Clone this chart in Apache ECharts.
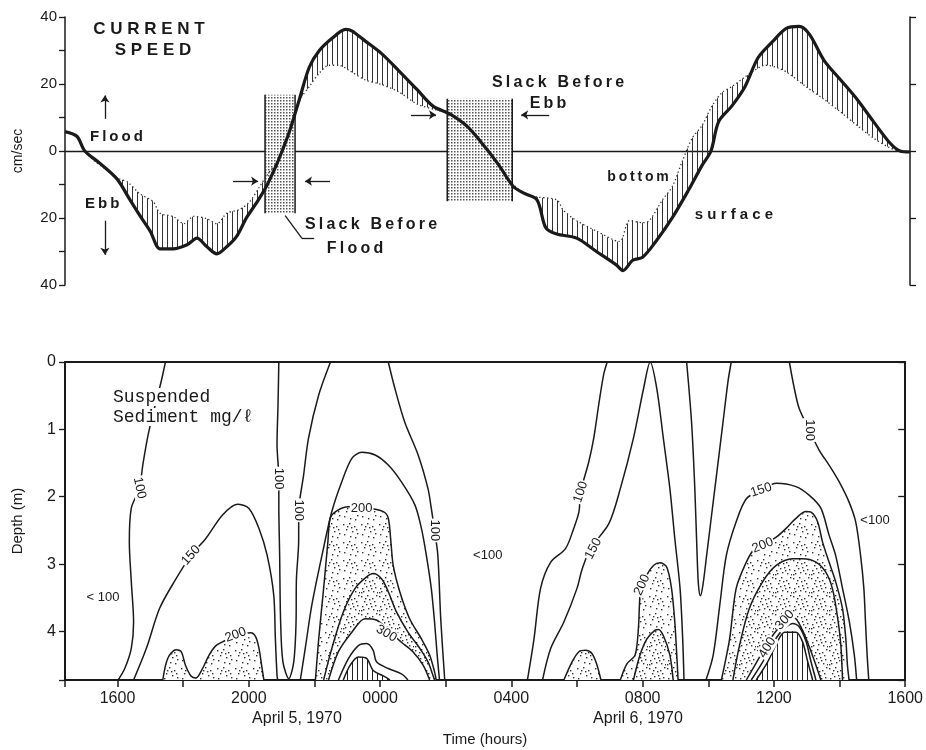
<!DOCTYPE html>
<html><head><meta charset="utf-8">
<script src="https://cdn.jsdelivr.net/npm/echarts@6/dist/echarts.min.js"></script>
<style>html,body{margin:0;padding:0;background:#fff}#c{width:926px;height:750px}</style>
</head><body><div id="c"></div>
<script>
// ---------- TOP PANEL DATA: current speed (time in hours from 00:00 Apr 5; cm/sec, +flood / -ebb) ----------
const surfaceSpeed = [[14.4,5.8],[14.76,4.4],[15.0,0],[15.46,-3.7],[15.98,-8.4],[16.37,-14.6],[16.67,-19.3],[16.98,-23.9],[17.28,-29.2],[17.67,-29.2],[18.1,-28],[18.4,-26],[18.7,-28.6],[19.0,-30.7],[19.3,-28.6],[19.6,-25.5],[19.9,-19.9],[20.2,-15.5],[20.5,-10.6],[20.8,-4.3],[20.99,0.3],[21.2,5.8],[21.5,15.4],[21.8,25],[22.1,29.9],[22.5,33.7],[22.9,36.3],[23.1,35.8],[23.5,32.8],[24.0,29],[24.5,24.1],[25.07,18.3],[25.55,13.4],[26.07,11],[26.6,7.2],[27.15,0.9],[27.55,-4.3],[27.98,-10.6],[28.3,-12.6],[28.7,-14.6],[28.97,-23],[29.3,-24.8],[29.9,-26],[30.5,-30],[31.1,-34],[31.3,-35.7],[31.6,-32.6],[31.9,-31.7],[32.3,-27],[32.8,-19.9],[33.3,-11.5],[33.7,-4.3],[33.97,0],[34.2,8.7],[34.6,13.4],[35.0,19.2],[35.4,27.9],[35.85,32.8],[36.25,36.6],[36.64,37.2],[36.95,34.9],[37.4,27],[37.9,21.2],[38.4,15.4],[38.9,8.7],[39.4,2.3],[39.7,0],[40.0,-0.3]];
const bottomSpeed = [[14.4,5.8],[14.76,4.4],[15.0,0],[15.25,-2.6],[15.6,-5.2],[15.98,-8.0],[16.3,-9.3],[16.67,-12.8],[17.07,-15.1],[17.28,-18.6],[17.67,-19.5],[18.0,-21.7],[18.3,-19.5],[18.7,-20.2],[19.0,-21.7],[19.3,-18.6],[19.7,-17.4],[20.0,-15.1],[20.3,-10.6],[20.5,-7.5],[20.8,-3.5],[21.0,0.5],[21.2,5.8],[21.5,15.0],[21.8,19.2],[22.1,23.2],[22.4,25.6],[22.7,25.6],[23.0,24.1],[23.5,21.2],[24.0,19.8],[24.5,17.7],[25.07,14],[25.55,12.5],[26.07,11],[26.6,7.2],[27.15,0.9],[27.55,-4.3],[27.98,-10.0],[28.3,-12.4],[28.7,-13.7],[29.3,-14.6],[29.5,-17.7],[29.9,-20.8],[30.5,-23.9],[31.2,-27],[31.5,-20.8],[31.9,-21.4],[32.1,-20.8],[32.5,-14.6],[32.8,-10.6],[33.1,-3.1],[33.4,3.8],[33.7,7.6],[34.0,13.4],[34.3,17.4],[34.6,19.2],[35.0,22.1],[35.3,24.1],[35.6,25.6],[35.95,25],[36.3,23.3],[36.85,19.2],[37.4,15.4],[37.9,11.6],[38.4,7.6],[38.9,3.8],[39.4,0.9],[39.7,0],[40.0,-0.3]];
// slack periods: [startHour, endHour, topSpeed, bottomSpeed]
const slackPeriods = [[20.46,21.37,16.8,-18.6],[25.98,27.95,15.6,-15.0]];

// ---------- BOTTOM PANEL DATA: suspended sediment contours (hour, depth m) ----------
const c100a = [[17.46,0],[17.33,0.29],[16.95,1.04],[16.77,1.53],[16.67,1.87],[16.42,2.17],[16.36,2.67],[16.42,3.26],[16.49,3.86],[16.42,4.25],[16.22,4.55],[16.02,4.72]];
const c150a = [[16.49,4.72],[16.88,4.25],[17.28,3.66],[17.73,3.26],[18.24,2.87],[18.69,2.62],[19.2,2.27],[19.65,2.11],[20.0,2.17],[20.31,2.47],[20.56,2.87],[20.76,3.46],[20.81,4.11],[20.86,4.65],[20.88,4.72]];
const c200a = [[17.38,4.72],[17.53,4.40],[17.78,4.27],[17.94,4.30],[18.07,4.50],[18.24,4.66],[18.39,4.69],[18.59,4.55],[18.79,4.35],[19.0,4.21],[19.3,4.13],[19.7,4.05],[20.06,4.02],[20.21,4.08],[20.31,4.25],[20.39,4.50],[20.46,4.72]];
const c100b = [[20.915,0],[20.89,0.64],[20.86,1.23],[20.915,1.72],[20.915,2.12],[20.94,2.87],[20.97,3.86],[21.04,4.45],[21.22,4.70],[21.37,4.45],[21.44,3.86],[21.45,3.24],[21.52,2.64],[21.52,2.23],[21.67,1.68],[21.82,1.13],[22.13,0.49],[22.49,0]];
const c100c = [[24.25,0],[24.45,0.39],[24.75,0.89],[25.16,1.38],[25.46,1.88],[25.56,2.17],[25.66,2.5],[25.76,2.87],[25.85,3.83],[25.97,4.72]];
const c150b = [[21.57,4.72],[21.72,4.25],[21.92,3.61],[22.23,2.87],[22.53,2.22],[22.83,1.78],[23.14,1.43],[23.44,1.34],[23.85,1.38],[24.25,1.53],[24.65,1.78],[25.06,2.12],[25.26,2.47],[25.41,2.87],[25.56,3.36],[25.66,3.86],[25.74,4.35],[25.81,4.72]];
const c200b = [[22.03,4.72],[22.13,4.11],[22.28,3.36],[22.41,2.67],[22.48,2.32],[22.68,2.21],[23.04,2.15],[23.54,2.16],[24.10,2.22],[24.25,2.32],[24.33,2.67],[24.4,3.02],[24.6,3.41],[24.9,3.81],[25.26,4.11],[25.51,4.35],[25.66,4.6],[25.71,4.72]];
const c250b = [[22.28,4.72],[22.53,4.25],[22.88,3.71],[23.24,3.36],[23.59,3.19],[23.79,3.14],[24.05,3.22],[24.25,3.41],[24.5,3.71],[24.85,4.01],[25.21,4.25],[25.46,4.45],[25.61,4.65],[25.66,4.72]];
const c300b = [[22.43,4.72],[22.73,4.30],[23.14,4.01],[23.54,3.81],[23.89,3.83],[24.25,3.98],[24.65,4.16],[25.0,4.30],[25.31,4.50],[25.51,4.72]];
const c350b = [[22.73,4.72],[23.04,4.40],[23.34,4.21],[23.59,4.18],[23.79,4.28],[23.89,4.45],[24.25,4.55],[24.65,4.63],[24.85,4.72]];
const c400b = [[22.88,4.72],[23.09,4.50],[23.34,4.38],[23.59,4.40],[23.79,4.58],[24.1,4.66],[24.3,4.72]];
const c100d = [[28.49,4.72],[28.69,4.11],[28.89,3.36],[29.2,2.97],[29.65,2.77],[29.9,2.47],[30.06,2.22],[30.11,1.93],[30.36,1.48],[30.51,1.13],[30.66,0.64],[30.81,0.19],[30.92,0]];
const c150c = [[28.95,4.72],[29.2,4.25],[29.6,3.86],[30.0,3.36],[30.16,3.07],[30.41,2.77],[30.97,2.40],[31.32,1.88],[31.72,1.13],[32.03,0.39],[32.23,0],[32.43,0.39],[32.63,1.13],[32.83,1.88],[32.98,2.62],[33.14,3.36],[33.22,4.11],[33.26,4.72]];
const c100e = [[33.34,0],[33.49,0.89],[33.59,1.88],[33.66,2.87],[33.7,3.3],[33.76,3.47],[33.84,3.3],[33.95,2.87],[34.2,1.88],[34.45,0.89],[34.6,0.29],[34.7,0]];
const c200c = [[29.6,4.72],[29.85,4.45],[30.06,4.30],[30.26,4.28],[30.46,4.33],[30.61,4.50],[30.73,4.72]];
const c200d = [[31.32,4.72],[31.52,4.48],[31.77,4.35],[31.87,3.96],[31.92,3.46],[31.98,3.36],[32.13,3.16],[32.33,3.02],[32.53,2.98],[32.73,3.04],[32.88,3.36],[32.98,3.86],[33.04,4.35],[33.08,4.72]];
const c250d = [[31.72,4.72],[31.92,4.35],[32.13,4.11],[32.38,3.98],[32.48,3.97],[32.63,4.06],[32.83,4.35],[32.93,4.72]];
const c100f = [[36.47,0],[36.62,0.39],[36.77,0.69],[37.08,1.01],[37.38,1.31],[37.68,1.53],[37.99,1.78],[38.29,2.08],[38.49,2.37],[38.64,2.87],[38.74,3.36],[38.79,3.86],[38.84,4.35],[38.89,4.72]];
const c150d = [[33.93,4.72],[34.15,4.35],[34.35,3.61],[34.55,2.87],[34.85,2.37],[35.16,2.03],[35.61,1.90],[36.07,1.80],[36.67,1.85],[37.08,1.98],[37.43,2.17],[37.68,2.57],[37.88,2.87],[38.09,3.36],[38.3,3.86],[38.45,4.35],[38.52,4.72]];
const c200e = [[34.4,4.72],[34.65,4.11],[34.85,3.36],[35.16,2.97],[35.41,2.77],[35.66,2.72],[36.07,2.60],[36.37,2.47],[36.67,2.32],[36.98,2.22],[37.13,2.23],[37.33,2.37],[37.48,2.67],[37.68,2.97],[37.88,3.26],[38.09,3.66],[38.19,4.11],[38.24,4.5],[38.29,4.72]];
const c250e = [[34.75,4.72],[34.95,4.21],[35.25,3.66],[35.66,3.26],[36.07,3.02],[36.57,2.92],[36.87,2.92],[37.28,2.97],[37.58,3.12],[37.78,3.36],[37.93,3.76],[38.04,4.21],[38.09,4.72]];
const c300e = [[35.16,4.72],[35.56,4.38],[35.86,4.13],[36.17,3.93],[36.47,3.77],[36.67,3.81],[36.87,3.98],[37.08,4.23],[37.28,4.50],[37.43,4.72]];
const c350e = [[35.31,4.72],[35.66,4.45],[36.0,4.15],[36.26,3.98],[36.57,3.88],[36.77,3.93],[36.98,4.15],[37.13,4.45],[37.28,4.72]];
const c400e = [[35.46,4.72],[35.81,4.45],[36.11,4.15],[36.32,4.01],[36.67,4.01],[36.87,4.15],[37.03,4.45],[37.18,4.72]];
// contour labels: [text, hour, depth, rotation deg]
const contourLabels = [
  ['100',16.67,1.87,-78],['150',18.24,2.87,48],['200',19.6,4.05,20],['< 100',15.56,3.49,0],
  ['100',20.915,1.73,-90],['100',21.52,2.2,-90],['200',23.44,2.17,0],['300',24.19,4.03,-30],
  ['100',25.66,2.5,-90],['<100',27.28,2.87,0],['100',30.11,1.93,72],['150',30.5,2.77,62],
  ['200',31.98,3.31,65],['100',37.08,1.01,-90],['150',35.61,1.90,18],['200',35.66,2.72,22],
  ['300',36.33,3.83,48],['400',35.8,4.24,58],['<100',39.08,2.35,0]
];
// axis tick values (hours)
const timeTicks = [14.4,16,18,20,22,24,26,28,30,32,34,36,38,40];
const timeLabels = [16,20,24,28,32,36,40];
const depthMax = 4.72;

// ---------- patterns ----------
function pat(w,h,draw){const c=document.createElement('canvas');c.width=w;c.height=h;const g=c.getContext('2d');draw(g);return {image:c,repeat:'repeat'};}
const hatch = pat(5,5,g=>{g.fillStyle='#fff';g.fillRect(0,0,5,5);g.fillStyle='#222';g.fillRect(2,0,1,5);});
const hatchT = pat(5,5,g=>{g.fillStyle='#333';g.fillRect(2,0,1,5);});
const screen = pat(3,3,g=>{g.fillStyle='#fff';g.fillRect(0,0,3,3);g.fillStyle='#555';g.fillRect(1,1,1.5,1.5);});
const dotsA=[[1,2],[7,1],[12,4],[4,7],[10,9],[15,11],[2,12],[8,14],[13,15],[5,4],[14,7],[9,5],[1,16],[6,10],[11,12],[16,1],[3,15],[17,16]];
const stipple = pat(18,18,g=>{g.fillStyle='#fff';g.fillRect(0,0,18,18);g.fillStyle='#333';dotsA.slice(0,12).forEach(d=>g.fillRect(d[0],d[1],1.4,1.4));});
const stipple2 = pat(18,18,g=>{g.fillStyle='#fff';g.fillRect(0,0,18,18);g.fillStyle='#333';dotsA.forEach(d=>g.fillRect(d[0],d[1],1.4,1.4));});

const INK = '#1a1a1a';
const SMOOTH = 0.3;

function fillSeries(pts, fill, z){
  const closed = pts.concat([[pts[pts.length-1][0], depthMax+0.4],[pts[0][0], depthMax+0.4]]);
  return {type:'custom', xAxisIndex:1, yAxisIndex:2, silent:true, clip:true, z:z, data:[pts[0]],
    renderItem:(p,api)=>({type:'polygon', shape:{points:closed.map(q=>api.coord(q)), smooth:SMOOTH}, style:{fill:fill, stroke:null}})};
}
function contourLine(pts){
  return {type:'line', xAxisIndex:1, yAxisIndex:2, data:pts, smooth:SMOOTH, symbol:'none', silent:true, z:5,
    lineStyle:{color:INK, width:1.5}};
}

const bandPts = surfaceSpeed.concat(bottomSpeed.slice().reverse());
const fontSans = "'Liberation Sans', Arial, sans-serif";
const sp = s => s.split('').join('\u2009');

const series = [
  // hatched band between surface and bottom current
  {type:'custom', xAxisIndex:0, yAxisIndex:0, silent:true, z:1, data:[surfaceSpeed[0]],
   renderItem:(p,api)=>({type:'polygon', shape:{points:bandPts.map(q=>api.coord(q)), smooth:SMOOTH}, style:{fill:hatchT, stroke:null}})},
  // slack boxes
  {type:'custom', xAxisIndex:0, yAxisIndex:0, silent:true, z:2, data:slackPeriods,
   renderItem:(p,api)=>{const a=api.coord([api.value(0),api.value(2)]);const b=api.coord([api.value(1),api.value(3)]);
     return {type:'group', children:[
       {type:'rect', shape:{x:a[0],y:a[1],width:b[0]-a[0],height:b[1]-a[1]}, style:{fill:screen}},
       {type:'line', shape:{x1:a[0],y1:a[1],x2:a[0],y2:b[1]}, style:{stroke:INK,lineWidth:1.5}},
       {type:'line', shape:{x1:b[0],y1:a[1],x2:b[0],y2:b[1]}, style:{stroke:INK,lineWidth:1.5}}]};}},
  {name:'bottom', type:'line', xAxisIndex:0, yAxisIndex:0, data:bottomSpeed, smooth:SMOOTH, symbol:'none', z:3,
   lineStyle:{color:'#333', width:1.3, type:[1.3,2.6]},
   markLine:{silent:true, symbol:['none','none'], label:{show:false}, lineStyle:{color:INK,width:1.3,type:'solid'},
     data:[[{coord:[21.07,-19.3]},{coord:[21.58,-26.1]}],[{coord:[21.58,-26.1]},{coord:[21.95,-26.1]}]]}},
  {name:'surface', type:'line', xAxisIndex:0, yAxisIndex:0, data:surfaceSpeed, smooth:SMOOTH, symbol:'none', z:4,
   lineStyle:{color:INK, width:3.2},
   markLine:{silent:true, symbol:['none','arrow'], symbolSize:7, label:{show:false}, lineStyle:{color:INK,width:1.3,type:'solid'},
     data:[
       [{coord:[19.49,-9]},{coord:[20.25,-9]}],[{coord:[22.43,-9]},{coord:[21.67,-9]}],
       [{coord:[24.88,10.8]},{coord:[25.64,10.8]}],[{coord:[29.07,10.8]},{coord:[28.22,10.8]}],
       [{coord:[15.61,9.6]},{coord:[15.61,16.6]}],[{coord:[15.61,-20.8]},{coord:[15.61,-31]}]]}},
  // sediment fills
  fillSeries(c200a, stipple, 1),
  fillSeries(c200b, stipple, 1),
  fillSeries(c250b, stipple2, 2),
  fillSeries(c300b, '#fff', 3),
  fillSeries(c400b, hatch, 4),
  fillSeries(c200c, stipple, 1),
  fillSeries(c200d, stipple, 1),
  fillSeries(c250d, stipple2, 2),
  fillSeries(c200e, stipple, 1),
  fillSeries(c250e, stipple2, 2),
  fillSeries(c300e, '#fff', 3),
  fillSeries(c400e, hatch, 4)
];
[c100a,c150a,c200a,c100b,c100c,c150b,c200b,c250b,c300b,c350b,c400b,c100d,c150c,c100e,c200c,c200d,c250d,c100f,c150d,c200e,c250e,c300e,c350e,c400e].forEach(c=>series.push(contourLine(c)));
series.push({type:'custom', xAxisIndex:1, yAxisIndex:2, silent:true, z:10, data:contourLabels.map(l=>[l[1],l[2],l[3],l[0]]),
  renderItem:(p,api)=>{const c=api.coord([api.value(0),api.value(1)]);const item=contourLabels[p.dataIndex];
    return {type:'text', x:c[0], y:c[1], rotation:item[3]*Math.PI/180,
      style:{text:item[0], font:'13px '+fontSans, fill:INK, align:'center', verticalAlign:'middle', backgroundColor:'#fff', padding:[0,1]}};}});

const fmtTime = v => { const h = ((Math.round(v)%24)+24)%24; return (h<10?'0':'')+h+'00'; };

const option = {
  animation:false,
  backgroundColor:'#fff',
  grid:[{left:65,right:16,top:17,height:268},{left:65,right:16,top:362,height:318}],
  xAxis:[
    {gridIndex:0,type:'value',min:14.4,max:40,axisLine:{show:true,onZero:true,lineStyle:{color:INK,width:1.3}},axisTick:{show:false},axisLabel:{show:false},splitLine:{show:false}},
    {gridIndex:1,type:'value',min:14.4,max:40,position:'bottom',axisLine:{onZero:false,lineStyle:{color:INK,width:2}},
     axisTick:{customValues:timeTicks,length:7,lineStyle:{color:INK,width:1.5}},
     axisLabel:{customValues:timeLabels,formatter:fmtTime,fontSize:16,fontFamily:fontSans,color:INK,margin:11},
     splitLine:{show:false},name:'Time (hours)',nameLocation:'middle',nameGap:52,nameTextStyle:{fontSize:15,fontFamily:fontSans,color:INK}},
    {gridIndex:1,type:'value',min:14.4,max:40,position:'top',axisLine:{onZero:false,lineStyle:{color:INK,width:2}},axisTick:{show:false},axisLabel:{show:false},splitLine:{show:false}}
  ],
  yAxis:[
    {gridIndex:0,type:'value',min:-40,max:40,interval:10,position:'left',axisLine:{show:true,onZero:false,lineStyle:{color:INK,width:1.5}},
     axisTick:{show:true,length:6,lineStyle:{color:INK,width:1.3}},
     axisLabel:{formatter:v=>(v%20===0?String(Math.abs(v)):''),fontSize:15,fontFamily:fontSans,color:INK,margin:8},splitLine:{show:false},
     name:'cm/sec',nameLocation:'middle',nameGap:40,nameRotate:90,nameTextStyle:{fontSize:14,fontFamily:fontSans,color:INK}},
    {gridIndex:0,type:'value',min:-40,max:40,interval:20,position:'right',axisLine:{show:true,onZero:false,lineStyle:{color:INK,width:1.5}},
     axisTick:{show:true,length:6,lineStyle:{color:INK,width:1.3}},axisLabel:{show:false},splitLine:{show:false}},
    {gridIndex:1,type:'value',inverse:true,min:0,max:depthMax,interval:1,position:'left',axisLine:{show:true,onZero:false,lineStyle:{color:INK,width:2}},
     axisTick:{show:true,length:6,lineStyle:{color:INK,width:1.3}},
     axisLabel:{formatter:v=>(Number.isInteger(v)?String(v):''),fontSize:16,fontFamily:fontSans,color:INK,margin:9},splitLine:{show:false},
     name:'Depth (m)',nameLocation:'middle',nameGap:40,nameRotate:90,nameTextStyle:{fontSize:15,fontFamily:fontSans,color:INK}},
    {gridIndex:1,type:'value',inverse:true,min:0,max:depthMax,interval:1,position:'right',axisLine:{show:true,onZero:false,lineStyle:{color:INK,width:2}},
     axisTick:{show:true,inside:true,length:7,lineStyle:{color:INK,width:1.3}},axisLabel:{show:false},splitLine:{show:false}}
  ],
  graphic:[
    {type:'text',x:149,y:29,style:{text:'C U R R E N T',font:'bold 17px '+fontSans,fill:INK,align:'center',verticalAlign:'middle'}},
    {type:'text',x:153,y:50,style:{text:'S P E E D',font:'bold 17px '+fontSans,fill:INK,align:'center',verticalAlign:'middle'}},
    {type:'text',x:90,y:137,style:{text:sp('Flood'),font:'bold 15px '+fontSans,fill:INK,align:'left',verticalAlign:'middle'}},
    {type:'text',x:85,y:204,style:{text:sp('Ebb'),font:'bold 15px '+fontSans,fill:INK,align:'left',verticalAlign:'middle'}},
    {type:'text',x:371,y:225,style:{text:sp('Slack Before'),font:'bold 16px '+fontSans,fill:INK,align:'center',verticalAlign:'middle'}},
    {type:'text',x:355,y:249,style:{text:sp('Flood'),font:'bold 16px '+fontSans,fill:INK,align:'center',verticalAlign:'middle'}},
    {type:'text',x:558,y:83,style:{text:sp('Slack Before'),font:'bold 16px '+fontSans,fill:INK,align:'center',verticalAlign:'middle'}},
    {type:'text',x:548,y:104,style:{text:sp('Ebb'),font:'bold 16px '+fontSans,fill:INK,align:'center',verticalAlign:'middle'}},
    {type:'text',x:638,y:177,style:{text:sp('bottom'),font:'bold 14px '+fontSans,fill:INK,align:'center',verticalAlign:'middle'}},
    {type:'text',x:734,y:215,style:{text:'s u r f a c e',font:'bold 15px '+fontSans,fill:INK,align:'center',verticalAlign:'middle'}},
    {type:'text',x:113,y:397,z:20,style:{text:'Suspended',font:"18px 'Liberation Mono', monospace",fill:INK,align:'left',verticalAlign:'middle',backgroundColor:'#fff'}},
    {type:'text',x:113,y:417,z:20,style:{text:'Sediment mg/ℓ',font:"18px 'Liberation Mono', monospace",fill:INK,align:'left',verticalAlign:'middle',backgroundColor:'#fff'}},
    {type:'text',x:297,y:719,style:{text:'April 5, 1970',font:'16px '+fontSans,fill:INK,align:'center',verticalAlign:'middle'}},
    {type:'text',x:638,y:719,style:{text:'April 6, 1970',font:'16px '+fontSans,fill:INK,align:'center',verticalAlign:'middle'}}
  ],
  series:series
};
const chart = echarts.init(document.getElementById('c'));
chart.setOption(option);
</script></body></html>
